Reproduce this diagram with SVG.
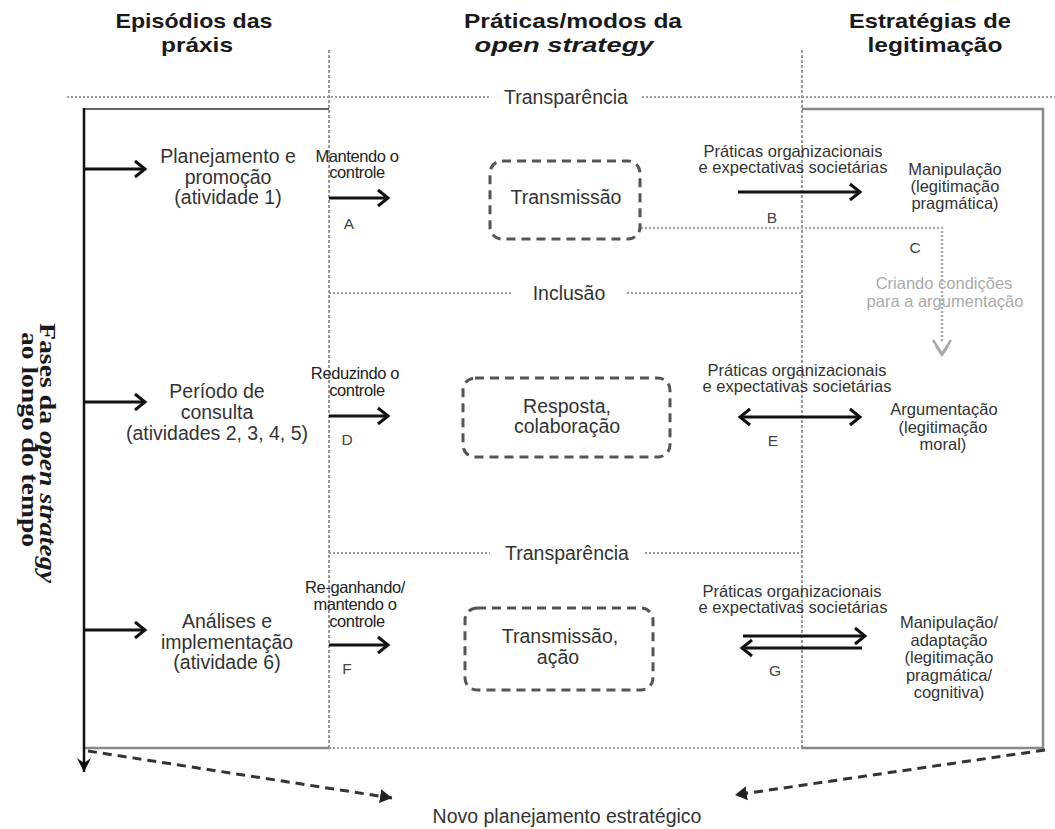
<svg xmlns="http://www.w3.org/2000/svg" width="1055" height="829" viewBox="0 0 1055 829">
  <style>
    .hdr { font-family: "Liberation Sans", Arial, sans-serif; font-weight: bold; font-size: 21px; fill: #1a1a1a; text-anchor: middle; }
    .side { font-family: "Liberation Serif", "Times New Roman", serif; font-weight: bold; font-size: 24px; fill: #1a1a1a; }
    .lbl { font-family: "Liberation Sans", Arial, sans-serif; font-size: 19.5px; fill: #333; text-anchor: middle; }
    .sm { font-family: "Liberation Sans", Arial, sans-serif; font-size: 16.5px; fill: #222; text-anchor: middle; letter-spacing: -0.4px; }
    .rt { font-family: "Liberation Sans", Arial, sans-serif; font-size: 16.5px; fill: #333; text-anchor: middle; }
    .let { font-family: "Liberation Sans", Arial, sans-serif; font-size: 15.5px; fill: #444; text-anchor: middle; }
    .faint { fill: #aaa; }
    .vdot { stroke: #777; stroke-width: 1.5; stroke-dasharray: 3 2; fill: none; }
    .hdot { stroke: #9a9a9a; stroke-width: 2; stroke-dasharray: 2 2; fill: none; }
    .arr { stroke: #111; stroke-width: 3; fill: none; marker-end: url(#chev); }
    .box { fill: none; stroke: #555; stroke-width: 3; stroke-dasharray: 9 6; }
    .dash { stroke: #333; stroke-width: 3; stroke-dasharray: 9 6; fill: none; marker-end: url(#tri); }
  </style>
  <defs>
    <marker id="chev" markerUnits="userSpaceOnUse" markerWidth="20" markerHeight="20" refX="14" refY="10" orient="auto-start-reverse">
      <path d="M4,2 L14,10 L4,18" fill="none" stroke="#111" stroke-width="3"/>
    </marker>
    <marker id="tri" markerUnits="userSpaceOnUse" markerWidth="16" markerHeight="16" refX="12" refY="8" orient="auto">
      <path d="M0,1 L12,8 L0,15 Z" fill="#222"/>
    </marker>
    <marker id="down" markerUnits="userSpaceOnUse" markerWidth="14" markerHeight="16" refX="7" refY="14" orient="0">
      <path d="M0,0 L7,14 L14,0 L7,5 Z" fill="#111"/>
    </marker>
  </defs>

  <!-- column headers -->
  <g id="header-episodios">
    <text class="hdr" x="194" y="28" textLength="157" lengthAdjust="spacingAndGlyphs">Episódios das</text>
    <text class="hdr" x="197" y="52" textLength="72" lengthAdjust="spacingAndGlyphs">práxis</text>
  </g>
  <g id="header-praticas">
    <text class="hdr" x="573" y="28" textLength="218" lengthAdjust="spacingAndGlyphs">Práticas/modos da</text>
    <text class="hdr" x="564" y="52" font-style="italic" textLength="179" lengthAdjust="spacingAndGlyphs">open strategy</text>
  </g>
  <g id="header-estrategias">
    <text class="hdr" x="930" y="28" textLength="162" lengthAdjust="spacingAndGlyphs">Estratégias de</text>
    <text class="hdr" x="935" y="52" textLength="135" lengthAdjust="spacingAndGlyphs">legitimação</text>
  </g>

  <!-- vertical axis label -->
  <g id="axis-label">
    <text class="side" transform="translate(40,323) rotate(90)" textLength="260" lengthAdjust="spacingAndGlyphs">Fases da <tspan font-style="italic">open strategy</tspan></text>
    <text class="side" transform="translate(22,332) rotate(90)" textLength="215" lengthAdjust="spacingAndGlyphs">ao longo do tempo</text>
  </g>

  <!-- frame, separators and connectors -->
  <g id="connectors">
    <!-- column separators -->
    <line class="vdot" x1="329" y1="50" x2="329" y2="748"/>
    <line class="vdot" x1="802" y1="50" x2="802" y2="748"/>
    <!-- mode separators -->
    <path class="hdot" d="M67,97 H490 M642,97 H1055"/>
    <path class="hdot" d="M329,293 H512 M627,293 H802"/>
    <path class="hdot" d="M329,553 H490 M645,553 H802"/>
    <path class="hdot" d="M329,748 H802"/>
    <!-- frame -->
    <path d="M84,109 H329" stroke="#666" stroke-width="2" fill="none"/>
    <path d="M802,109 H1043 V748 H802" stroke="#888" stroke-width="2.5" fill="none"/>
    <path d="M84,748 H329" stroke="#888" stroke-width="2.5" fill="none"/>
    <path d="M84,108 V772" stroke="#111" stroke-width="2.5" fill="none" marker-end="url(#down)"/>
    <!-- phase arrows -->
    <path class="arr" d="M84,169 H145"/>
    <path class="arr" d="M84,402 H145"/>
    <path class="arr" d="M84,630 H145"/>
    <!-- A, D, F -->
    <path class="arr" d="M329,198 H388"/>
    <path class="arr" d="M329,416 H388"/>
    <path class="arr" d="M329,645 H388"/>
    <!-- B -->
    <path class="arr" d="M738,192 H860"/>
    <!-- E -->
    <path class="arr" d="M740,417 H860" marker-start="url(#chev)"/>
    <!-- G -->
    <path class="arr" d="M743,636 H865"/>
    <path class="arr" d="M862,648 H742"/>
    <!-- C -->
    <path d="M641,228 H942 V342" stroke="#aaa" stroke-width="2.5" stroke-dasharray="2 2" fill="none"/>
    <path d="M933,340 L942,354 L951,340 M936,346 L942,355 L948,346" stroke="#aaa" stroke-width="2.5" fill="none"/>
    <!-- towards new planning -->
    <path class="dash" d="M88,751 L392,798"/>
    <path class="dash" d="M1045,750 L735,795"/>
  </g>

  <!-- separator labels -->
  <g id="sep-transparencia-1"><text class="lbl" x="566" y="104">Transparência</text></g>
  <g id="sep-inclusao"><text class="lbl" x="569" y="300">Inclusão</text></g>
  <g id="sep-transparencia-2"><text class="lbl" x="567" y="560">Transparência</text></g>

  <!-- episodes -->
  <g id="ep-planejamento">
    <text class="lbl" x="228" y="163">Planejamento e</text>
    <text class="lbl" x="228" y="184">promoção</text>
    <text class="lbl" x="228" y="204">(atividade 1)</text>
  </g>
  <g id="ep-consulta">
    <text class="lbl" x="217" y="398">Período de</text>
    <text class="lbl" x="217" y="419">consulta</text>
    <text class="lbl" x="217" y="440">(atividades 2, 3, 4, 5)</text>
  </g>
  <g id="ep-analises">
    <text class="lbl" x="227" y="628">Análises e</text>
    <text class="lbl" x="227" y="649">implementação</text>
    <text class="lbl" x="227" y="669">(atividade 6)</text>
  </g>

  <!-- control labels -->
  <g id="ctl-a">
    <text class="sm" x="357" y="162">Mantendo o</text>
    <text class="sm" x="357" y="178">controle</text>
    <text class="let" x="349" y="229">A</text>
  </g>
  <g id="ctl-d">
    <text class="sm" x="355" y="379">Reduzindo o</text>
    <text class="sm" x="357" y="396">controle</text>
    <text class="let" x="347" y="445">D</text>
  </g>
  <g id="ctl-f">
    <text class="sm" x="355" y="593">Re-ganhando/</text>
    <text class="sm" x="355" y="610">mantendo o</text>
    <text class="sm" x="357" y="627">controle</text>
    <text class="let" x="347" y="674">F</text>
  </g>

  <!-- open strategy modes -->
  <g id="mode-transmissao">
    <rect class="box" x="490" y="161" width="150" height="78" rx="12"/>
    <text class="lbl" x="566" y="204">Transmissão</text>
  </g>
  <g id="mode-resposta">
    <rect class="box" x="463" y="378" width="207" height="79" rx="12"/>
    <text class="lbl" x="567" y="413">Resposta,</text>
    <text class="lbl" x="567" y="433">colaboração</text>
  </g>
  <g id="mode-transmissao-acao">
    <rect class="box" x="465" y="608" width="188" height="82" rx="12"/>
    <text class="lbl" x="560" y="643">Transmissão,</text>
    <text class="lbl" x="558" y="664">ação</text>
  </g>

  <!-- practices labels -->
  <g id="pr-b">
    <text class="rt" x="793" y="157">Práticas organizacionais</text>
    <text class="rt" x="793" y="173">e expectativas societárias</text>
    <text class="let" x="772" y="223">B</text>
  </g>
  <g id="pr-c">
    <text class="let" x="915" y="253">C</text>
    <text class="rt faint" x="944" y="289">Criando condições</text>
    <text class="rt faint" x="945" y="307">para a argumentação</text>
  </g>
  <g id="pr-e">
    <text class="rt" x="797" y="376">Práticas organizacionais</text>
    <text class="rt" x="797" y="392">e expectativas societárias</text>
    <text class="let" x="773" y="446">E</text>
  </g>
  <g id="pr-g">
    <text class="rt" x="792" y="597">Práticas organizacionais</text>
    <text class="rt" x="793" y="613">e expectativas societárias</text>
    <text class="let" x="775" y="676">G</text>
  </g>

  <!-- legitimation strategies -->
  <g id="leg-manipulacao">
    <text class="rt" x="955" y="175">Manipulação</text>
    <text class="rt" x="955" y="192">(legitimação</text>
    <text class="rt" x="955" y="209">pragmática)</text>
  </g>
  <g id="leg-argumentacao">
    <text class="rt" x="944" y="415">Argumentação</text>
    <text class="rt" x="943" y="433">(legitimação</text>
    <text class="rt" x="943" y="450">moral)</text>
  </g>
  <g id="leg-adaptacao">
    <text class="rt" x="949" y="628">Manipulação/</text>
    <text class="rt" x="949" y="646">adaptação</text>
    <text class="rt" x="949" y="663">(legitimação</text>
    <text class="rt" x="949" y="681">pragmática/</text>
    <text class="rt" x="949" y="698">cognitiva)</text>
  </g>

  <!-- outcome -->
  <g id="novo-planejamento">
    <text class="lbl" x="567" y="823">Novo planejamento estratégico</text>
  </g>
</svg>
